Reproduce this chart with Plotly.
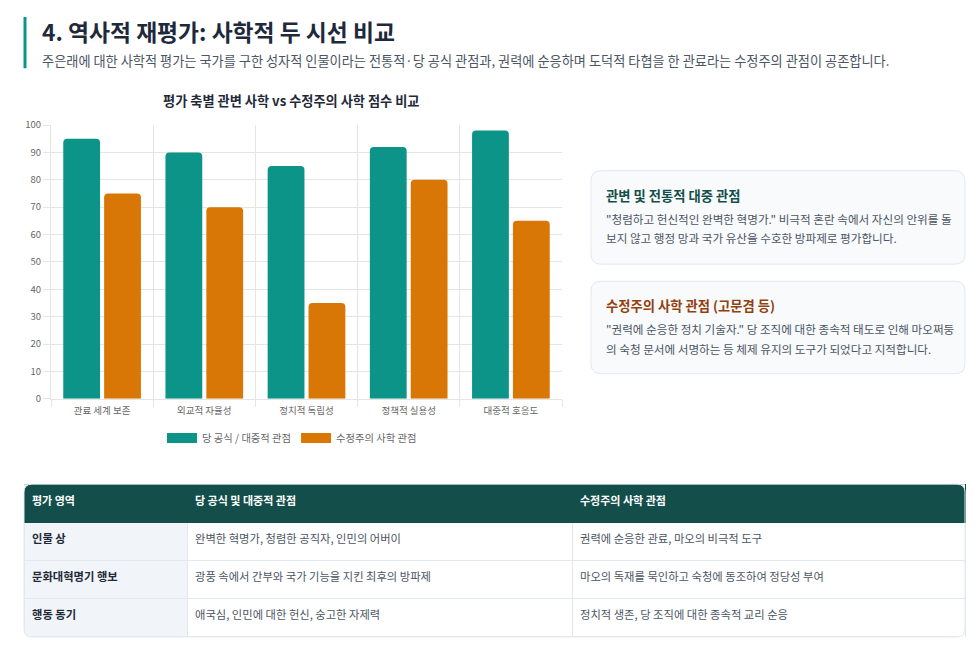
import plotly.graph_objects as go

FONT = "Noto Sans CJK KR"

# 평가 축 / 점수
categories = ["관료 세계 보존", "외교적 자율성", "정치적 독립성", "정책적 실용성", "대중적 호응도"]
official_scores = [95, 90, 85, 92, 98]
revisionist_scores = [75, 70, 35, 80, 65]
series_names = ["당 공식 / 대중적 관점", "수정주의 사학 관점"]

# 비교 표
table_header = ["평가 영역", "당 공식 및 대중적 관점", "수정주의 사학 관점"]
table_rows = ["인물 상", "문화대혁명기 행보", "행동 동기"]
table_official = [
    "완벽한 혁명가, 청렴한 공직자, 인민의 어버이",
    "광풍 속에서 간부와 국가 기능을 지킨 최후의 방파제",
    "애국심, 인민에 대한 헌신, 숭고한 자제력",
]
table_revisionist = [
    "권력에 순응한 관료, 마오의 비극적 도구",
    "마오의 독재를 묵인하고 숙청에 동조하여 정당성 부여",
    "정치적 생존, 당 조직에 대한 종속적 교리 순응",
]

TEAL = "#0d9488"
ORANGE = "#d97706"
DARK = "#134e4a"

W, H = 975, 648
# 화면 좌표 -> paper 좌표 (렌더링 결과에서 맞춘 값)
X_OFF = 8
Y_OFF, Y_SPAN = 17, 631


def px_x(x):
    return (x - X_OFF) / W


def px_y(y):
    return 1 - (y - Y_OFF) / Y_SPAN


fig = go.Figure()

fig.add_trace(go.Bar(x=categories, y=official_scores, name=series_names[0], showlegend=False,
                     marker=dict(color=TEAL, cornerradius=4, line=dict(width=0))))
fig.add_trace(go.Bar(x=categories, y=revisionist_scores, name=series_names[1], showlegend=False,
                     marker=dict(color=ORANGE, cornerradius=4, line=dict(width=0))))
# 범례용 (넓은 사각형 아이콘)
for nm, col in zip(series_names, [TEAL, ORANGE]):
    fig.add_trace(go.Scatter(x=[None], y=[None], mode="lines", name=nm,
                             line=dict(color=col, width=11)))


def span(s):
    return "<span>%s</span>" % s


fig.add_trace(go.Table(
    domain=dict(x=[px_x(24), px_x(965)], y=[px_y(640), px_y(483)]),
    columnwidth=[163, 385, 393],
    header=dict(values=["<span><b>%s</b></span>" % h for h in table_header],
                fill_color=DARK, line_color=DARK, align="left", height=38,
                font=dict(family=FONT, size=11, color="white")),
    cells=dict(values=[["<b>%s</b>" % r for r in table_rows],
                       [span(s) for s in table_official],
                       [span(s) for s in table_revisionist]],
               fill_color=[["#f1f5f9"] * 3, ["white"] * 3, ["white"] * 3],
               line_color="#e2e8f0", align="left", height=38,
               font=dict(family=FONT, size=11.3, color=[["#1f2937"] * 3, ["#4b5563"] * 3, ["#4b5563"] * 3])),
))

shapes = []
# 제목 왼쪽 강조선
shapes.append(dict(type="line", xref="paper", yref="paper", x0=px_x(25), x1=px_x(25),
                   y0=px_y(18), y1=px_y(69), line=dict(color=TEAL, width=3)))


def rounded_path(x0, y0, x1, y1, r):
    X0, X1 = px_x(x0), px_x(x1)
    Y0, Y1 = px_y(y1), px_y(y0)
    rx, ry = r / W, r / Y_SPAN
    return (f"M {X0+rx},{Y0} L {X1-rx},{Y0} Q {X1},{Y0} {X1},{Y0+ry} "
            f"L {X1},{Y1-ry} Q {X1},{Y1} {X1-rx},{Y1} L {X0+rx},{Y1} "
            f"Q {X0},{Y1} {X0},{Y1-ry} L {X0},{Y0+ry} Q {X0},{Y0} {X0+rx},{Y0} Z")


def rounded_rect(x0, y0, x1, y1, r, fill, line, layer="below"):
    return dict(type="path", xref="paper", yref="paper", path=rounded_path(x0, y0, x1, y1, r),
                fillcolor=fill, line=dict(color=line, width=1), layer=layer)


def corner_masks(x0, y0, x1, y1, r):
    out = []
    rx, ry = r / W, r / Y_SPAN
    for cx, cy, sx, sy in [(x0, y0, 1, -1), (x1, y0, -1, -1), (x0, y1, 1, 1), (x1, y1, -1, 1)]:
        X, Y = px_x(cx), px_y(cy)
        path = f"M {X},{Y} L {X + sx*rx},{Y} Q {X},{Y} {X},{Y + sy*ry} Z"
        out.append(dict(type="path", xref="paper", yref="paper", path=path,
                        fillcolor="white", line=dict(width=0), layer="above"))
    return out


shapes.append(rounded_rect(591, 171, 965, 264, 10, "#f8fafc", "#e2e8f0"))
shapes.append(rounded_rect(591, 281, 965, 373, 10, "#f8fafc", "#e2e8f0"))
# 표 테두리 (둥근 모서리)
shapes.extend(corner_masks(24, 483, 965, 635, 8))
shapes.append(rounded_rect(24, 483, 965, 635, 8, "rgba(0,0,0,0)", "#e2e8f0", layer="above"))

annotations = []


def text(x, y, s, size, color, bold=False, xanchor="left"):
    annotations.append(dict(x=px_x(x), y=px_y(y), xref="paper", yref="paper", text=("<b>%s</b>" % s) if bold else s,
                            showarrow=False, xanchor=xanchor, yanchor="middle",
                            font=dict(family=FONT, size=size, color=color)))


text(40, 32, "4. 역사적 재평가: 사학적 두 시선 비교", 22.8, "#1e293b", bold=True)
text(40, 61, "주은래에 대한 사학적 평가는 국가를 구한 성자적 인물이라는 전통적·당 공식 관점과, 권력에 순응하며 도덕적 타협을 한 관료라는 수정주의 관점이 공존합니다.",
     13.2, "#4b5563")
text(291, 101, "평가 축별 관변 사학 vs 수정주의 사학 점수 비교", 13.2, "#1f2937", bold=True, xanchor="center")

text(604, 196, "관변 및 전통적 대중 관점", 13.3, DARK, bold=True)
text(604, 219, "\"청렴하고 헌신적인 완벽한 혁명가.\" 비극적 혼란 속에서 자신의 안위를 돌", 11.6, "#4b5563")
text(604, 238, "보지 않고 행정 망과 국가 유산을 수호한 방파제로 평가합니다.", 11.6, "#4b5563")
text(604, 305, "수정주의 사학 관점 (고문겸 등)", 13.3, "#92400e", bold=True)
text(604, 329, "\"권력에 순응한 정치 기술자.\" 당 조직에 대한 종속적 태도로 인해 마오쩌둥", 11.6, "#4b5563")
text(604, 348, "의 숙청 문서에 서명하는 등 체제 유지의 도구가 되었다고 지적합니다.", 11.6, "#4b5563")

fig.update_layout(
    width=W, height=H,
    margin=dict(l=0, r=0, t=0, b=0),
    paper_bgcolor="white", plot_bgcolor="white",
    font=dict(family=FONT, color="#666666"),
    barmode="group", bargap=0.2, bargroupgap=0.1,
    shapes=shapes, annotations=annotations,
    legend=dict(orientation="h", x=px_x(292), xanchor="center", y=px_y(437), yanchor="middle",
                font=dict(family=FONT, size=10.3, color="#666666")),
    xaxis=dict(domain=[px_x(51), px_x(562)], tickson="boundaries", showgrid=True, gridcolor="#e5e5e5",
               ticks="outside", ticklen=7, tickcolor="#e5e5e5", showline=True, linecolor="#e5e5e5",
               ticklabelstandoff=3,
               tickfont=dict(family=FONT, size=9.5, color="#666666")),
    yaxis=dict(domain=[px_y(398), px_y(125.5)], range=[0, 100], dtick=10, showgrid=True, gridcolor="#e5e5e5",
               ticks="outside", ticklen=7, tickcolor="#e5e5e5", showline=True, linecolor="#e5e5e5",
               zeroline=False, tickfont=dict(family=FONT, size=9.5, color="#666666")),
)

fig.write_html("out.html")
